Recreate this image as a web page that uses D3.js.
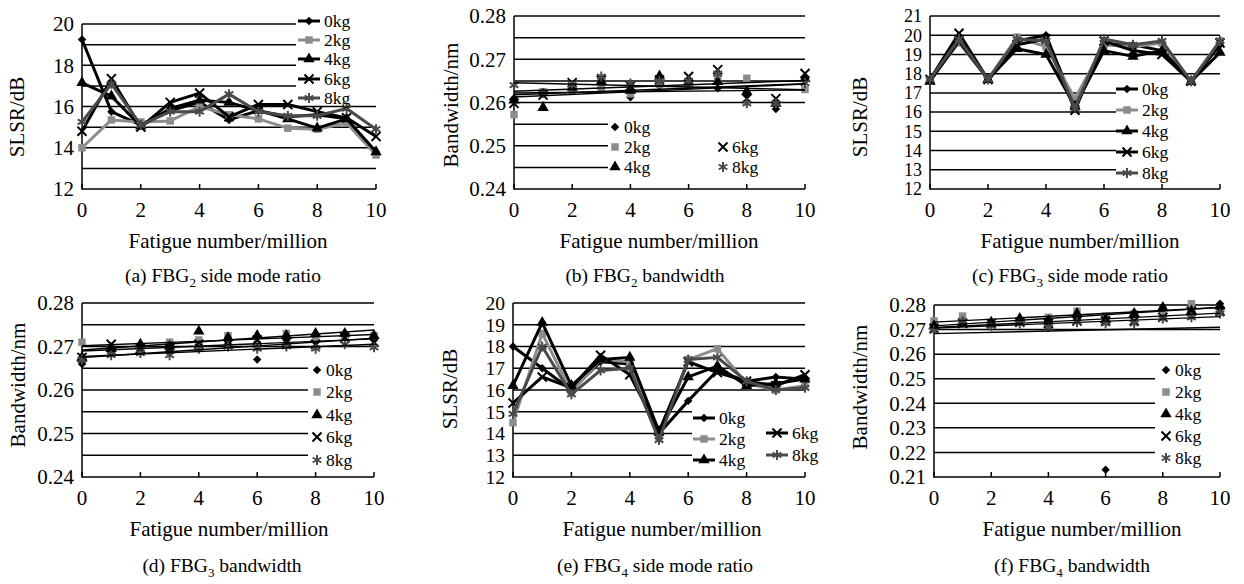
<!DOCTYPE html>
<html>
<head>
<meta charset="utf-8">
<style>
body { margin: 0; background: #fff; }
svg text { font-family: "Liberation Serif", "DejaVu Serif", "Times New Roman", serif; }
.grid, .axis { stroke: #000; stroke-width: 1.5px; }
.trend { stroke: #000; stroke-width: 1.4px; fill: none; }
</style>
</head>
<body>
<svg id="fig" width="1244" height="584"></svg>
<script src="https://cdn.jsdelivr.net/npm/d3@7"></script>
<script>
// fatigue number (million) and load levels
var fatigue = [0, 1, 2, 3, 4, 5, 6, 7, 8, 9, 10];
var loads = ["0kg", "2kg", "4kg", "6kg", "8kg"];
var xTicks = [0, 2, 4, 6, 8, 10];

// (a) FBG2 side mode ratio (dB), one row per load
var slsrFBG2 = [
  [19.25, 15.75, 15.1, 15.8, 16.2, 15.35, 15.8, 15.5, 15.6, 15.4, 13.8],
  [14.0, 15.35, 15.25, 15.3, 16.0, 15.6, 15.4, 14.95, 14.9, 15.2, 13.65],
  [17.15, 16.5, 15.05, 15.9, 16.3, 16.2, 15.8, 15.4, 14.95, 15.4, 13.8],
  [14.8, 17.35, 15.0, 16.2, 16.65, 15.5, 16.1, 16.1, 15.75, 15.45, 14.55],
  [15.25, 17.1, 15.1, 15.75, 15.75, 16.6, 15.75, 15.55, 15.55, 15.9, 14.9]
];
// (b) FBG2 bandwidth (nm)
var bwFBG2 = [
  [0.2610, 0.2620, 0.2630, 0.2635, 0.2612, 0.2640, 0.2640, 0.2633, 0.2620, 0.2585, 0.2655],
  [0.2572, 0.2625, 0.2628, 0.2635, 0.2620, 0.2642, 0.2642, 0.2656, 0.2656, 0.2598, 0.2630],
  [0.2605, 0.2588, 0.2635, 0.2648, 0.2628, 0.2661, 0.2648, 0.2648, 0.2625, 0.2598, 0.2655],
  [0.2598, 0.2617, 0.2646, 0.2652, 0.2638, 0.2652, 0.2660, 0.2676, 0.2609, 0.2609, 0.2667],
  [0.2640, 0.2622, 0.2640, 0.2660, 0.2644, 0.2650, 0.2650, 0.2667, 0.2598, 0.2598, 0.2645]
];
// (c) FBG3 side mode ratio (dB)
var slsrFBG3 = [
  [17.7, 19.8, 17.7, 19.7, 20.0, 16.3, 19.5, 19.5, 19.2, 17.6, 19.5],
  [17.7, 19.6, 17.7, 19.9, 19.4, 16.7, 19.5, 19.4, 19.6, 17.6, 19.7],
  [17.6, 19.7, 17.7, 19.3, 19.0, 16.3, 19.2, 18.9, 19.2, 17.6, 19.1],
  [17.7, 20.1, 17.7, 19.5, 19.8, 16.1, 19.7, 19.2, 19.0, 17.6, 19.6],
  [17.7, 19.8, 17.7, 19.8, 19.7, 16.2, 19.8, 19.5, 19.7, 17.6, 19.7]
];
// (d) FBG3 bandwidth (nm)
var bwFBG3 = [
  [0.2660, 0.2685, 0.2690, 0.2690, 0.2705, 0.2705, 0.2670, 0.2715, 0.2710, 0.2720, 0.2715],
  [0.2710, 0.2695, 0.2700, 0.2710, 0.2715, 0.2725, 0.2705, 0.2730, 0.2720, 0.2725, 0.2725],
  [0.2675, 0.2695, 0.2705, 0.2700, 0.2735, 0.2720, 0.2725, 0.2725, 0.2730, 0.2730, 0.2725],
  [0.2675, 0.2705, 0.2695, 0.2695, 0.2705, 0.2705, 0.2715, 0.2710, 0.2705, 0.2720, 0.2710],
  [0.2670, 0.2680, 0.2685, 0.2680, 0.2695, 0.2700, 0.2695, 0.2700, 0.2695, 0.2705, 0.2698]
];
// (e) FBG4 side mode ratio (dB)
var slsrFBG4 = [
  [18.0, 17.0, 16.0, 17.3, 17.2, 14.0, 15.5, 16.9, 16.4, 16.6, 16.5],
  [14.5, 18.6, 15.9, 17.4, 17.3, 13.8, 17.4, 17.9, 16.3, 16.0, 16.2],
  [16.2, 19.1, 16.2, 17.4, 17.5, 14.1, 16.6, 17.1, 16.2, 16.3, 16.5],
  [15.4, 16.6, 16.1, 17.6, 16.7, 14.1, 17.3, 16.8, 16.4, 16.2, 16.7],
  [14.9, 18.0, 15.8, 16.9, 17.0, 13.7, 17.4, 17.5, 16.4, 16.0, 16.1]
];
// (f) FBG4 bandwidth (nm)
var bwFBG4 = [
  [0.2715, 0.2725, 0.2725, 0.2740, 0.2735, 0.2755, 0.2130, 0.2770, 0.2785, 0.2775, 0.2805],
  [0.2735, 0.2755, 0.2725, 0.2735, 0.2750, 0.2775, 0.2755, 0.2765, 0.2780, 0.2805, 0.2780],
  [0.2715, 0.2725, 0.2730, 0.2745, 0.2735, 0.2765, 0.2740, 0.2765, 0.2790, 0.2775, 0.2795],
  [0.2705, 0.2725, 0.2725, 0.2730, 0.2725, 0.2735, 0.2735, 0.2735, 0.2750, 0.2775, 0.2775],
  [0.2695, 0.2735, 0.2715, 0.2725, 0.2710, 0.2730, 0.2725, 0.2725, 0.2745, 0.2750, 0.2765]
];

// y tick labels
var ticksA = [12, 14, 16, 18, 20];
var ticksBW = [0.24, 0.25, 0.26, 0.27, 0.28];
var ticksC = [12, 13, 14, 15, 16, 17, 18, 19, 20, 21];
var ticksE = [12, 13, 14, 15, 16, 17, 18, 19, 20];
var ticksF = [0.21, 0.22, 0.23, 0.24, 0.25, 0.26, 0.27, 0.28];

var svg = d3.select("#fig");
var FS = 21, LFS = 17.5, SERIF = "Liberation Serif, DejaVu Serif, serif";

//	marker and colour per load
var styles = [
  { color: "#000", sym: d3.symbolSquare, size: 36, fill: true, rot: 45 },
  { color: "#8c8c8c", sym: d3.symbolSquare, size: 56, fill: true, rot: 0 },
  { color: "#000", sym: d3.symbolTriangle, size: 56, fill: true, rot: 0 },
  { color: "#000", sym: d3.symbolTimes, size: 55, fill: false, rot: 0 },
  { color: "#4a4a4a", sym: d3.symbolAsterisk, size: 70, fill: false, rot: 0 }
];

function marker(sel, s, cx, cy) {
  sel.append("path")
    .attr("d", d3.symbol().type(s.sym).size(s.size)())
    .attr("transform", "translate(" + cx + "," + cy + ") rotate(" + s.rot + ")")
    .attr("fill", s.fill ? s.color : "none")
    .attr("stroke", s.fill ? "none" : s.color)
    .attr("stroke-width", s.fill ? 0 : 2);
}

function txt(sel, size) {
  return sel.append("text").attr("font-family", SERIF).attr("font-size", size);
}

var panels = [
  { data: slsrFBG2, kind: "line", dom: [12, 20], step: 1, ticks: ticksA, fmt: d3.format("d"), tfs: FS,
    l: 82, r: 376, t: 24, b: 189, ytitle: "SLSR/dB", ytx: 24, yty: 117, xtx: 228, xty: 248,
    cap: ["(a) FBG", "2", " side mode ratio"], capx: 223, capy: 282,
    box: [296, 11, 80, 89], leg: [[309, 21], [309, 40], [309, 59], [309, 79], [309, 98]] },
  { data: bwFBG2, kind: "scatter", dom: [0.24, 0.28], step: 0.005, ticks: ticksBW, fmt: d3.format(".2f"), tfs: FS,
    l: 514, r: 805, t: 16, b: 189, ytitle: "Bandwidth/nm", ytx: 458, yty: 105, xtx: 659, xty: 248,
    cap: ["(b) FBG", "2", " bandwidth"], capx: 645, capy: 282,
    box: [608, 114, 197, 64], leg: [[615, 127], [615, 147], [615, 167], [723, 147], [723, 167]] },
  { data: slsrFBG3, kind: "line", dom: [12, 21], step: 1, ticks: ticksC, fmt: d3.format("d"), tfs: 18,
    l: 930, r: 1220, t: 16, b: 189, ytitle: "SLSR/dB", ytx: 867, yty: 117, xtx: 1080, xty: 248,
    cap: ["(c) FBG", "3", " side mode ratio"], capx: 1070, capy: 282,
    box: [1116, 84, 110, 98], leg: [[1127, 89], [1127, 110], [1127, 131], [1127, 152], [1127, 173]] },
  { data: bwFBG3, kind: "scatter", dom: [0.24, 0.28], step: 0.005, ticks: ticksBW, fmt: d3.format(".2f"), tfs: FS,
    l: 82, r: 374, t: 303, b: 477, ytitle: "Bandwidth/nm", ytx: 25, yty: 385, xtx: 229, xty: 536,
    cap: ["(d) FBG", "3", " bandwidth"], capx: 222, capy: 572,
    box: [308, 361, 66, 108], leg: [[317, 370], [317, 392], [317, 415], [317, 437], [317, 460]] },
  { data: slsrFBG4, kind: "line", dom: [12, 20], step: 1, ticks: ticksE, fmt: d3.format("d"), tfs: 19.5,
    l: 513, r: 805, t: 303, b: 477, ytitle: "SLSR/dB", ytx: 457, yty: 389, xtx: 662, xty: 536,
    cap: ["(e) FBG", "4", " side mode ratio"], capx: 655, capy: 572,
    box: [692, 404, 140, 66], leg: [[704, 418], [704, 439], [704, 460], [777, 433], [777, 455]] },
  { data: bwFBG4, kind: "scatter", dom: [0.21, 0.28], step: 0.01, ticks: ticksF, fmt: d3.format(".2f"), tfs: FS,
    l: 934, r: 1220, t: 305, b: 477, ytitle: "Bandwidth/nm", ytx: 867, yty: 387, xtx: 1082, xty: 536,
    cap: ["(f) FBG", "4", " bandwidth"], capx: 1072, capy: 572,
    box: [1155, 362, 70, 106], leg: [[1166, 370], [1166, 392], [1166, 414], [1166, 436], [1166, 458]] }
];

function linearFit(ys) {
  var n = fatigue.length, mx = d3.mean(fatigue), my = d3.mean(ys), sxy = 0, sxx = 0;
  for (var i = 0; i < n; i++) {
    sxy += (fatigue[i] - mx) * (ys[i] - my);
    sxx += (fatigue[i] - mx) * (fatigue[i] - mx);
  }
  var k = sxy / sxx;
  return function(x) { return my + k * (x - mx); };
}

function drawPanel(p) {
  var g = svg.append("g");
  var x = d3.scaleLinear().domain([0, 10]).range([p.l, p.r]);
  var y = d3.scaleLinear().domain(p.dom).range([p.b, p.t]);

  //	gridlines
  var n = Math.round((p.dom[1] - p.dom[0]) / p.step);
  var grid = d3.range(1, n + 1).map(function(i) { return p.dom[0] + i * p.step; });
  g.selectAll(".grid").data(grid).enter().append("line")
    .attr("class", "grid")
    .attr("x1", p.l).attr("x2", p.r)
    .attr("y1", function(d) { return y(d); }).attr("y2", function(d) { return y(d); });

  //	axes
  g.append("line").attr("class", "axis").attr("x1", p.l).attr("x2", p.l).attr("y1", p.t).attr("y2", p.b + 0.75);
  g.append("line").attr("class", "axis").attr("x1", p.l).attr("x2", p.r).attr("y1", p.b).attr("y2", p.b);
  g.selectAll(".xt").data(xTicks).enter().append("line")
    .attr("class", "axis")
    .attr("x1", x).attr("x2", x).attr("y1", p.b).attr("y2", p.b - 5);

  p.ticks.forEach(function(d) {
    txt(g, p.tfs).attr("x", p.l - 8).attr("y", y(d))
      .attr("dy", "0.35em").attr("text-anchor", "end").text(p.fmt(d));
  });
  xTicks.forEach(function(d) {
    txt(g, FS).attr("x", x(d)).attr("y", p.b + 28)
      .attr("text-anchor", "middle").text(d);
  });

  //	titles
  txt(g, FS)
    .attr("transform", "translate(" + p.ytx + "," + p.yty + ") rotate(-90)")
    .attr("text-anchor", "middle").text(p.ytitle);
  txt(g, FS).attr("x", p.xtx).attr("y", p.xty)
    .attr("text-anchor", "middle").text("Fatigue number/million");
  var cap = txt(g, 19.5).attr("x", p.capx).attr("y", p.capy).attr("text-anchor", "middle");
  cap.append("tspan").text(p.cap[0]);
  cap.append("tspan").attr("font-size", 13).attr("dy", 5).text(p.cap[1]);
  cap.append("tspan").attr("dy", -5).text(p.cap[2]);

  //	legend background hides the gridlines behind it
  g.append("rect").attr("x", p.box[0]).attr("y", p.box[1])
    .attr("width", p.box[2]).attr("height", p.box[3]).attr("fill", "#fff");

  //	series
  p.data.forEach(function(ys, si) {
    var s = styles[si];
    if (p.kind === "line") {
      g.append("path")
        .datum(ys)
        .attr("fill", "none").attr("stroke", s.color).attr("stroke-width", 3)
        .attr("stroke-linejoin", "round")
        .attr("d", d3.line().x(function(d, i) { return x(fatigue[i]); }).y(function(d) { return y(d); }));
    }
    ys.forEach(function(v, i) { marker(g, s, x(fatigue[i]), y(v)); });
  });
  if (p.kind === "scatter") {
    p.data.forEach(function(ys) {
      var f = linearFit(ys);
      g.append("line").attr("class", "trend")
        .attr("x1", x(0)).attr("y1", y(f(0)))
        .attr("x2", x(10)).attr("y2", y(f(10)));
    });
  }

  //	legend entries
  loads.forEach(function(name, si) {
    var s = styles[si], pos = p.leg[si];
    if (p.kind === "line") {
      g.append("line")
        .attr("x1", pos[0] - 11).attr("x2", pos[0] + 11)
        .attr("y1", pos[1]).attr("y2", pos[1])
        .attr("stroke", s.color).attr("stroke-width", 3);
      marker(g, s, pos[0], pos[1]);
      txt(g, LFS).attr("x", pos[0] + 15).attr("y", pos[1]).attr("dy", "0.33em").text(name);
    } else {
      marker(g, s, pos[0], pos[1]);
      txt(g, LFS).attr("x", pos[0] + 9).attr("y", pos[1]).attr("dy", "0.33em").text(name);
    }
  });
}

panels.forEach(drawPanel);
</script>
</body>
</html>
